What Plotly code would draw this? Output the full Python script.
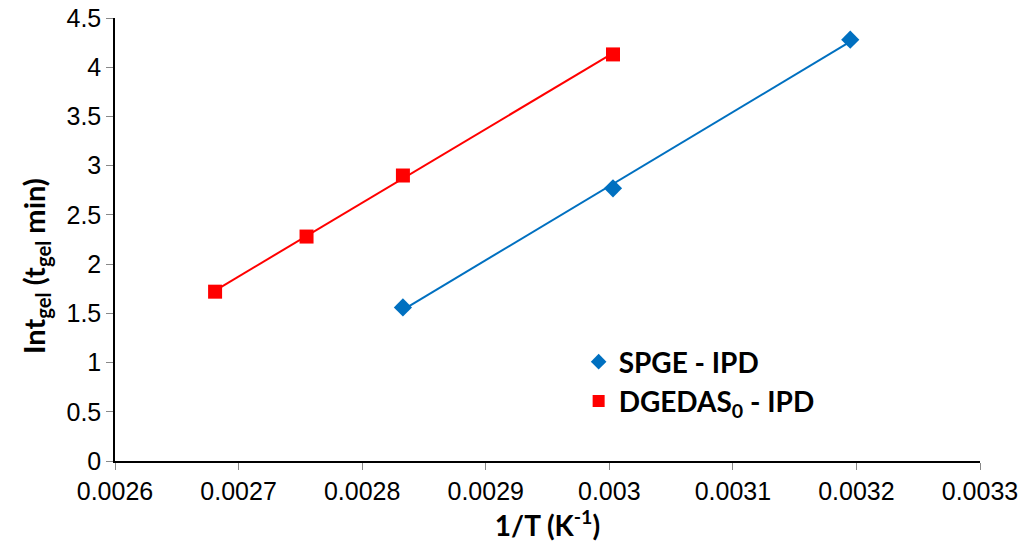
import numpy as np
import plotly.graph_objects as go

# Data
spge_x = [0.002833, 0.003003, 0.003195]
spge_y = [1.56, 2.77, 4.28]
dged_x = [0.002681, 0.002755, 0.002833, 0.003003]
dged_y = [1.72, 2.28, 2.90, 4.13]
x_ticks = [0.0026, 0.0027, 0.0028, 0.0029, 0.003, 0.0031, 0.0032, 0.0033]
x_tick_labels = ["0.0026", "0.0027", "0.0028", "0.0029", "0.003", "0.0031", "0.0032", "0.0033"]
y_ticks = [0, 0.5, 1, 1.5, 2, 2.5, 3, 3.5, 4, 4.5]
y_tick_labels = ["0", "0.5", "1", "1.5", "2", "2.5", "3", "3.5", "4", "4.5"]

blue = "#0070C0"
red = "#FF0000"

fig = go.Figure()

def trend(xs, ys):
    k, b = np.polyfit(xs, ys, 1)
    xx = [min(xs), max(xs)]
    return xx, [k * v + b for v in xx]

tx, ty = trend(spge_x, spge_y)
fig.add_trace(go.Scatter(x=tx, y=ty, mode="lines", line=dict(color=blue, width=2), showlegend=False, hoverinfo="skip"))
tx, ty = trend(dged_x, dged_y)
fig.add_trace(go.Scatter(x=tx, y=ty, mode="lines", line=dict(color=red, width=2), showlegend=False, hoverinfo="skip"))

fig.add_trace(go.Scatter(x=spge_x, y=spge_y, mode="markers", name="SPGE - IPD",
                         marker=dict(symbol="diamond", size=14, color=blue)))
fig.add_trace(go.Scatter(x=dged_x, y=dged_y, mode="markers", name="DGEDAS<sub>0</sub> - IPD",
                         marker=dict(symbol="square", size=14, color=red)))

tickfont = dict(family="Liberation Sans, Arial", size=25, color="black")
titlefont = dict(family="Lato, Open Sans", size=28, color="black", weight="bold")

fig.update_layout(
    width=1024, height=549,
    margin=dict(l=115, r=44, t=18, b=88),
    paper_bgcolor="white", plot_bgcolor="white",
    font=dict(family="Liberation Sans, Arial", size=25, color="black"),
    legend=dict(x=0.536, y=0.28, xanchor="left", yanchor="top",
                bgcolor="rgba(0,0,0,0)",
                font=titlefont,
                itemsizing="constant", tracegroupgap=0),
    showlegend=True,
    annotations=[dict(
        text="Int<sub>gel</sub> (t<sub>gel</sub> min)", textangle=-90,
        xref="paper", yref="paper", x=-0.0925, y=0.44,
        xanchor="center", yanchor="middle", showarrow=False,
        font=dict(family="Lato, Open Sans", size=29, color="black", weight="bold"),
    )],
)
fig.update_xaxes(
    range=[0.0026, 0.0033], tickvals=x_ticks, ticktext=x_tick_labels, tickfont=tickfont,
    automargin=False, ticklabeloverflow="allow",
    showgrid=False, zeroline=False, showline=True, linecolor="black", linewidth=1.5,
    ticks="outside", ticklen=7, tickcolor="#888888",
    title=dict(text="1/T (K<sup>-1</sup>)", font=titlefont, standoff=10),
)
fig.update_yaxes(
    range=[0, 4.5], tickvals=y_ticks, ticktext=y_tick_labels, tickfont=tickfont,
    automargin=False, ticklabeloverflow="allow",
    showgrid=False, zeroline=False, showline=True, linecolor="black", linewidth=1.5,
    ticks="outside", ticklen=7, tickcolor="#888888",
)

fig.write_html("out.html", config={"displayModeBar": False},
               post_script="document.body.style.margin='0';")
